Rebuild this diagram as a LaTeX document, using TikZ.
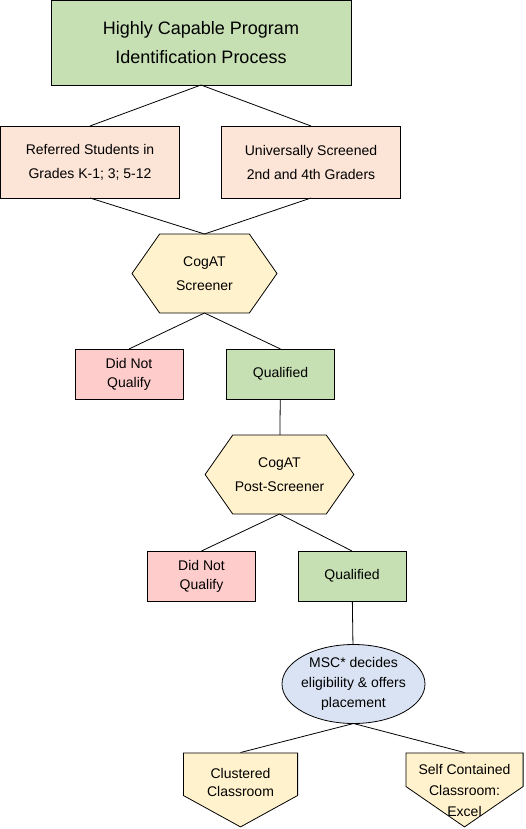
\documentclass[tikz,border=0pt]{standalone}
\usepackage{fontspec}
\setmainfont{Liberation Sans}
\usepackage{xcolor}
\usetikzlibrary{
    positioning,
    shapes.geometric,
    shapes.symbols,
    calc
}

\definecolor{hcgreen}{HTML}{C6E0B4}
\definecolor{hcpeach}{HTML}{FCE4D6}
\definecolor{hcpink}{HTML}{FFCCCC}
\definecolor{hcyellow}{HTML}{FFF2CC}
\definecolor{hcblue}{HTML}{DAE3F3}

\begin{document}
\begin{tikzpicture}[
    x=1pt, y=1pt,
    every node/.style={font=\fontsize{14}{20}\selectfont, inner sep=2pt, outer sep=0pt},
    heading/.style={rectangle, draw=black, fill=hcgreen, line width=0.8pt, align=center, minimum width=300pt, minimum height=85pt, font=\fontsize{18}{29}\selectfont},
    group/.style={rectangle, draw=black, fill=hcpeach, line width=0.8pt, align=center, minimum width=179pt, minimum height=72pt, font=\fontsize{14}{24}\selectfont},
    test/.style={signal, signal to=east and west, signal pointer angle=110, draw=black, fill=hcyellow, line width=0.8pt, align=center, minimum width=145pt, minimum height=79pt, font=\fontsize{14}{24}\selectfont},
    fail/.style={rectangle, draw=black, fill=hcpink, line width=0.8pt, align=center, minimum width=108pt, minimum height=50pt, font=\fontsize{14}{19}\selectfont},
    pass/.style={fail, fill=hcgreen},
    decide/.style={ellipse, draw=black, fill=hcblue, line width=0.8pt, align=center, inner xsep=-3pt, inner ysep=-1pt, minimum width=143pt, minimum height=79pt},
    % pointed box, #1 = height of the point
    placebox/.style={rectangle, minimum height=75pt, path picture={
        \filldraw[fill=hcyellow, draw=black, line width=0.8pt]
            ([shift={(0.4pt,-0.4pt)}]path picture bounding box.north west)
            -- ([shift={(-0.4pt,-0.4pt)}]path picture bounding box.north east)
            -- ([shift={(-0.4pt,#1)}]path picture bounding box.south east)
            -- ([yshift=0.6pt]path picture bounding box.south)
            -- ([shift={(0.4pt,#1)}]path picture bounding box.south west) -- cycle;
    }},
    link/.style={line width=0.8pt}
]

\useasboundingbox (0,0) rectangle (526,-829);

\node[heading] (title) at (201,-42.5) {Highly Capable Program\\Identification Process};

\node[group, below=41pt of title, xshift=-111pt] (referred) {Referred Students in\\Grades K-1; 3; 5-12};
\node[group, right=42pt of referred] (universal) {Universally Screened\\2nd and 4th Graders};

\node[test, below=36pt of $(referred.south)!0.5!(universal.south)$, xshift=4pt] (screener) {CogAT\\Screener};
\node[fail, below=36pt of screener, xshift=-75.5pt] (nope1) {Did Not\\Qualify};
\node[pass, right=43.5pt of nope1] (qual1) {Qualified};

\node[test, below=36pt of qual1, xshift=-1pt] (post) {CogAT\\Post-Screener};
\node[fail, below=37pt of post, xshift=-78pt] (nope2) {Did Not\\Qualify};
\node[pass, right=42.5pt of nope2] (qual2) {Qualified};

\node[decide, below=43.5pt of qual2, xshift=1.5pt] (msc) {MSC* decides\\eligibility \& offers\\placement};

\node[placebox=32pt, minimum width=115pt, below=29pt of msc, xshift=-113pt,
      label={[align=center, font=\fontsize{14}{18}\selectfont, yshift=7.5pt]center:Clustered\\Classroom}] (cluster) {};
\node[placebox=41pt, minimum width=118pt, below=29pt of msc, xshift=111pt,
      label={[align=center, font=\fontsize{14}{21}\selectfont]center:Self Contained\\Classroom:\\Excel}] (excel) {};

\draw[link] (title.south) -- (referred.north);
\draw[link] (title.south) -- (universal.north);
\draw[link] (referred.south) -- (screener.north);
\draw[link] (universal.south) -- (screener.north);
\draw[link] (screener.south) -- (nope1.north);
\draw[link] (screener.south) -- (qual1.north);
\draw[link] (qual1) -- (post);
\draw[link] (post.south) -- (nope2.north);
\draw[link] (post.south) -- (qual2.north);
\draw[link] (qual2) -- (msc);
\draw[link] (msc.south) -- (cluster.north);
\draw[link] (msc.south) -- (excel.north);

\end{tikzpicture}
\end{document}
